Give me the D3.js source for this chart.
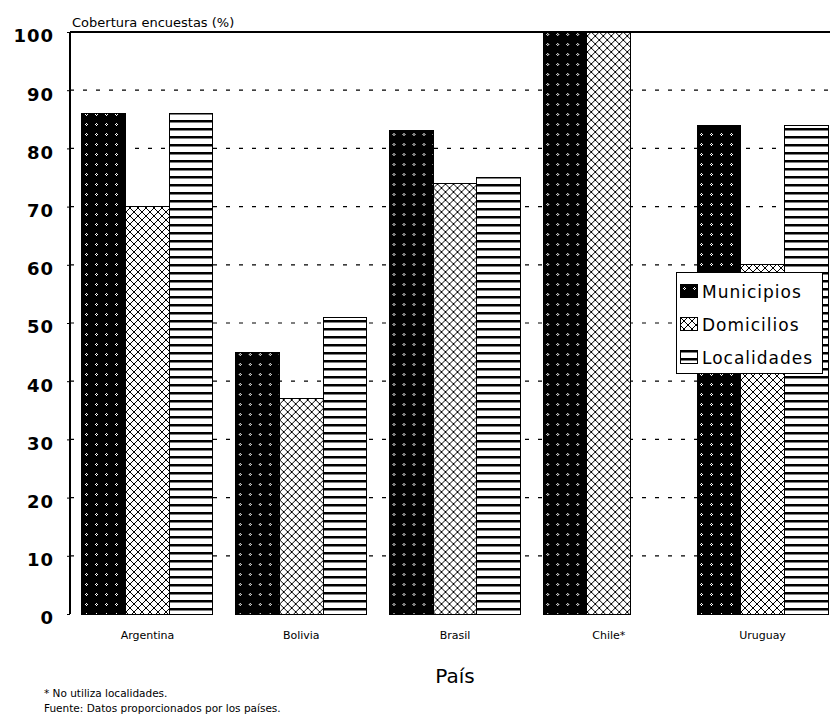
<!DOCTYPE html>
<html>
<head>
<meta charset="utf-8">
<script src="https://cdn.jsdelivr.net/npm/d3@7/dist/d3.min.js"></script>
<style>
  html, body { margin: 0; padding: 0; background: #fff; }
  svg { display: block; }
  text { font-family: "DejaVu Sans", sans-serif; fill: #000; }
</style>
</head>
<body>
<script>
// Cobertura de las encuestas por país
const countries = ["Argentina", "Bolivia", "Brasil", "Chile*", "Uruguay"];
const seriesNames = ["Municipios", "Domicilios", "Localidades"];
const municipios = [86, 45, 83, 100, 84];
const domicilios = [70, 37, 74, 100, 60];
const localidades = [86, 51, 75, 0, 84];
const yTicks = [0, 10, 20, 30, 40, 50, 60, 70, 80, 90, 100];
const footnotes = ["* No utiliza localidades.", "Fuente: Datos proporcionados por los países."];

const seriesValues = [municipios, domicilios, localidades];
const W = 830, H = 725;

const svg = d3.select("body").append("svg").attr("width", W).attr("height", H);
const defs = svg.append("defs");

// Municipios: black fill with small white motifs
const pM = defs.append("pattern").attr("id", "pat-0").attr("patternUnits", "userSpaceOnUse")
  .attr("width", 10).attr("height", 10);
pM.append("rect").attr("width", 10).attr("height", 10).attr("fill", "#000");
[[4,3],[3,4],[5,4],[4,5]].forEach(([x, y]) =>
  pM.append("rect").attr("x", x).attr("y", y).attr("width", 1).attr("height", 1).attr("fill", "#fff"));

// Domicilios: white with a lattice of dotted diagonals
const pD = defs.append("pattern").attr("id", "pat-1").attr("patternUnits", "userSpaceOnUse")
  .attr("width", 8).attr("height", 8);
pD.append("rect").attr("width", 8).attr("height", 8).attr("fill", "#fff");
for (let k = 0; k < 8; k += 1) {
  pD.append("rect").attr("x", k).attr("y", k).attr("width", 1).attr("height", 1).attr("fill", "#000");
  pD.append("rect").attr("x", k).attr("y", 7 - k).attr("width", 1).attr("height", 1).attr("fill", "#000");
}

// Localidades: horizontal black stripes
const pL = defs.append("pattern").attr("id", "pat-2").attr("patternUnits", "userSpaceOnUse")
  .attr("width", 8).attr("height", 8);
pL.append("rect").attr("width", 8).attr("height", 8).attr("fill", "#fff");
pL.append("rect").attr("x", 0).attr("y", 0).attr("width", 8).attr("height", 2.5).attr("fill", "#000");

const plotLeft = 70, plotRight = 840, plotTop = 32, plotBottom = 614;

const x0 = d3.scaleBand().domain(countries).range([plotLeft, plotRight]).paddingInner(0.148).paddingOuter(0.078);
const x1 = d3.scaleBand().domain(seriesNames).range([0, x0.bandwidth()]);
const y = d3.scaleLinear().domain([0, 100]).range([plotBottom, plotTop]);

// dashed gridlines
svg.append("g").selectAll("line").data(yTicks.filter(t => t > 0 && t < 100)).join("line")
  .attr("x1", plotLeft).attr("x2", W).attr("y1", d => y(d)).attr("y2", d => y(d))
  .attr("stroke", "#000").attr("stroke-width", 1.2).attr("stroke-dasharray", "4,9");

// bars
const groups = svg.append("g").selectAll("g").data(countries).join("g")
  .attr("transform", d => `translate(${x0(d)},0)`);
groups.selectAll("rect").data((c, i) => seriesNames.map((s, j) => ({ s, j, v: seriesValues[j][i] }))).join("rect")
  .attr("x", d => x1(d.s))
  .attr("y", d => y(d.v))
  .attr("width", x1.bandwidth())
  .attr("height", d => y(0) - y(d.v))
  .attr("fill", d => `url(#pat-${d.j})`)
  .attr("stroke", "#000").attr("stroke-width", 1)
  .attr("shape-rendering", "crispEdges");

// axis frame: left axis and top line
svg.append("line").attr("x1", plotLeft).attr("x2", plotLeft).attr("y1", plotTop).attr("y2", plotBottom)
  .attr("stroke", "#000").attr("stroke-width", 2);
svg.append("line").attr("x1", plotLeft).attr("x2", W).attr("y1", plotTop).attr("y2", plotTop)
  .attr("stroke", "#000").attr("stroke-width", 2);

// y axis via d3.axisLeft
const yAxis = svg.append("g").attr("transform", `translate(${plotLeft},0)`)
  .call(d3.axisLeft(y).tickValues(yTicks).tickSize(3).tickPadding(13));
yAxis.select(".domain").remove();
yAxis.selectAll("line").attr("stroke", "#000");
yAxis.selectAll("text")
  .attr("font-family", "DejaVu Sans, sans-serif")
  .attr("font-weight", "bold").attr("font-size", 18)
  .attr("letter-spacing", 1).attr("dy", "0.55em").attr("fill", "#000");

// x axis labels
const xAxis = svg.append("g").attr("transform", `translate(0,${plotBottom})`)
  .call(d3.axisBottom(x0).tickSize(0).tickPadding(17));
xAxis.select(".domain").remove();
xAxis.selectAll("text")
  .attr("font-family", "DejaVu Sans, sans-serif")
  .attr("font-size", 11).attr("fill", "#000");

// titles
svg.append("text").attr("x", 72).attr("y", 27).attr("font-size", 13).text("Cobertura encuestas (%)");
svg.append("text").attr("x", (plotLeft + plotRight) / 2).attr("y", 683).attr("text-anchor", "middle")
  .attr("font-size", 20).text("País");

svg.append("g").selectAll("text").data(footnotes).join("text")
  .attr("x", 44).attr("y", (d, i) => 697 + i * 15)
  .attr("font-size", 10.5).text(d => d);

// legend
const lg = svg.append("g").attr("transform", "translate(676,272)");
lg.append("rect").attr("width", 146).attr("height", 101).attr("fill", "#fff")
  .attr("stroke", "#000").attr("stroke-width", 1).attr("shape-rendering", "crispEdges");
const li = lg.selectAll("g").data(seriesNames).join("g")
  .attr("transform", (d, i) => `translate(4,${12 + i * 33})`);
li.append("rect").attr("width", 17).attr("height", 13)
  .attr("fill", (d, i) => `url(#pat-${i})`).attr("stroke", "#000").attr("shape-rendering", "crispEdges");
li.append("text").attr("x", 22).attr("y", 14).attr("font-size", 17).attr("letter-spacing", 1)
  .text(d => d);
</script>
</body>
</html>
